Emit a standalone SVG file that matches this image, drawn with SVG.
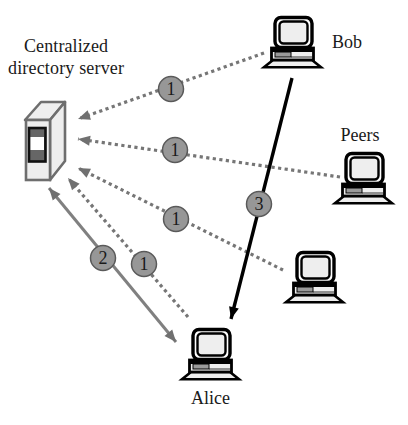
<svg xmlns="http://www.w3.org/2000/svg" width="408" height="425" viewBox="0 0 408 425">
<style>
text{font-family:"Liberation Serif","DejaVu Serif",serif;fill:#1a1a1a}
.lbl{font-size:18px;text-anchor:middle}
.dot{fill:none;stroke:#767676;stroke-width:3.2;stroke-dasharray:3.2 3.4}
.gs{fill:none;stroke:#808080;stroke-width:3}
.bk{fill:none;stroke:#000;stroke-width:3.4}
.bc{fill:#979797;stroke:#5a5a5a;stroke-width:1.5}
.bt{font-size:18px;text-anchor:middle}
</style>
<defs>
<marker id="ag" markerUnits="userSpaceOnUse" markerWidth="13" markerHeight="11" refX="12" refY="5.500" orient="auto-start-reverse" viewBox="0 0 12 11"><path d="M0 0.500L12 5.500L0 10.500Z" fill="#707070"/></marker>
<marker id="ab" markerUnits="userSpaceOnUse" markerWidth="13" markerHeight="11" refX="12" refY="5.500" orient="auto" viewBox="0 0 12 11"><path d="M0 0.500L12 5.500L0 10.500Z" fill="#000"/></marker>
<g id="pc">
<path d="M10 44L49 44L58 51.200L1 51.200Z" fill="#eee" stroke="#000" stroke-width="2.600"/>
<rect x="8.500" y="32" width="42" height="12" fill="#eee" stroke="#000" stroke-width="2.800"/>
<rect x="8.500" y="32" width="42" height="4" fill="#000"/>
<rect x="12" y="36" width="16" height="5" fill="#999" stroke="#000" stroke-width="1"/>
<path d="M28 41H49" stroke="#000" stroke-width="0.800"/>
<rect x="12" y="1.500" width="37" height="30" rx="6" fill="#fff" stroke="#000" stroke-width="3.400"/>
<rect x="16.500" y="5.500" width="28" height="22" rx="4" fill="#eee" stroke="#000" stroke-width="2.400"/>
</g>
</defs>
<g id="connectors">
<path class="dot" d="M264 53L78 119" marker-end="url(#ag)"/>
<path class="dot" d="M340 177L78 139" marker-end="url(#ag)"/>
<path class="dot" d="M283 270L78 168" marker-end="url(#ag)"/>
<path class="dot" d="M188 317L68 178" marker-end="url(#ag)"/>
<path class="gs" d="M49 188L176 342" marker-start="url(#ag)" marker-end="url(#ag)"/>
<path class="bk" d="M292 78L231 319" marker-end="url(#ab)"/>
</g>
<g id="server">
<path d="M25 120L41 102H65L50 120Z" fill="#eee" stroke="#6e6e6e" stroke-width="2.600" stroke-linejoin="round"/>
<path d="M50 120L65 102V161L50 180Z" fill="#eee" stroke="#6e6e6e" stroke-width="2.600" stroke-linejoin="round"/>
<rect x="26" y="120" width="24" height="60" fill="#eee" stroke="#6e6e6e" stroke-width="2.600"/>
<rect x="29" y="128" width="16.500" height="33.500" fill="#666" stroke="#111" stroke-width="2.600"/>
<rect x="30.500" y="137" width="13.500" height="13" fill="#fff"/>
<text class="lbl" x="66" y="52" textLength="84">Centralized</text>
<text class="lbl" x="66" y="74" textLength="116">directory server</text>
</g>
<g id="bob"><use href="#pc" x="263" y="16"/><text class="lbl" x="347" y="48">Bob</text></g>
<g id="peers"><use href="#pc" x="334" y="152"/><text class="lbl" x="360" y="141">Peers</text></g>
<g id="peer2"><use href="#pc" x="285" y="251"/></g>
<g id="alice"><use href="#pc" x="181" y="328"/><text class="lbl" x="210.500" y="404">Alice</text></g>
<g id="badges">
<circle class="bc" cx="171" cy="89" r="12.500"/><text class="bt" x="171" y="95">1</text>
<circle class="bc" cx="175" cy="150" r="12.500"/><text class="bt" x="175" y="156">1</text>
<circle class="bc" cx="176" cy="219" r="12.500"/><text class="bt" x="176" y="225">1</text>
<circle class="bc" cx="144" cy="264" r="12.500"/><text class="bt" x="144" y="270">1</text>
<circle class="bc" cx="103" cy="258" r="12.500"/><text class="bt" x="103" y="264">2</text>
<circle class="bc" cx="259" cy="204" r="12.500"/><text class="bt" x="259" y="210">3</text>
</g>
</svg>
